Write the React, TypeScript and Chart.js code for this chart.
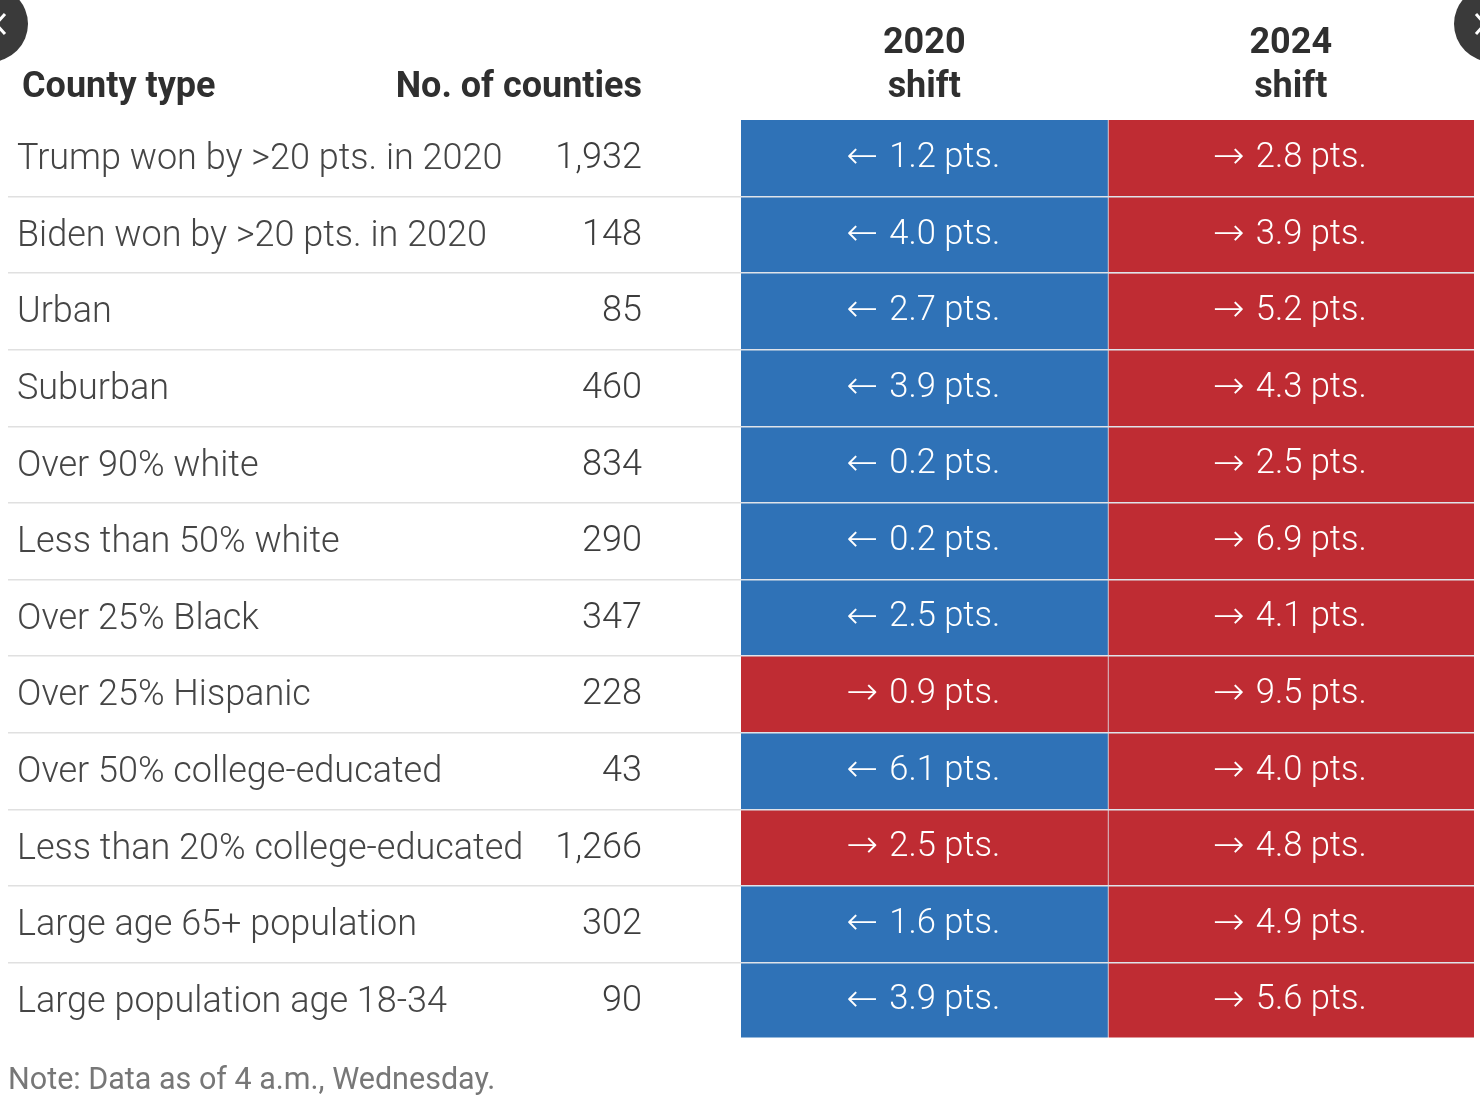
import React, { useEffect, useRef } from "react";
import { Chart, registerables } from "chart.js";

Chart.register(...registerables);

const countyTypes = [
  "Trump won by >20 pts. in 2020",
  "Biden won by >20 pts. in 2020",
  "Urban",
  "Suburban",
  "Over 90% white",
  "Less than 50% white",
  "Over 25% Black",
  "Over 25% Hispanic",
  "Over 50% college-educated",
  "Less than 20% college-educated",
  "Large age 65+ population",
  "Large population age 18-34",
];
const countyCounts = ["1,932", "148", "85", "460", "834", "290", "347", "228", "43", "1,266", "302", "90"];
// negative = shift toward Democrats (blue, left arrow); positive = toward Republicans (red, right arrow)
const shift2020 = [-1.2, -4.0, -2.7, -3.9, -0.2, -0.2, -2.5, 0.9, -6.1, 2.5, -1.6, -3.9];
const shift2024 = [2.8, 3.9, 5.2, 4.3, 2.5, 6.9, 4.1, 9.5, 4.0, 4.8, 4.9, 5.6];
const columnHeaders = [["2020", "shift"], ["2024", "shift"]];
const headerLeft = "County type";
const headerCount = "No. of counties";
const noteText = "Note: Data as of 4 a.m., Wednesday.";

const BLUE = "#2f72b7";
const RED = "#bf2c33";
const LINE = "#e0e0e0";
const DIVIDER = "#dfe3ea";
const FAMILY = "Roboto, sans-serif";
const BODY_FONT = `300 36px ${FAMILY}`;
const CELL_FONT = `300 34.5px ${FAMILY}`;
const ARROW_FONT = "200 38px 'DejaVu Sans', sans-serif";
const HEAD_FONT = `bold 36px ${FAMILY}`;

const tablePlugin = {
  id: "tableText",
  beforeDraw(chart: any) {
    // nudge the county-type tick labels onto the row's optical centre
    chart.scales.y.getLabelItems(chart.chartArea).forEach((item: any) => {
      if (!item.nudged) {
        item.options.translation[1] += 2;
        item.nudged = true;
      }
    });
  },
  afterDatasetsDraw(chart: any) {
    const { ctx, scales } = chart;
    const y = scales.y;
    const x = scales.x;
    ctx.save();
    // trim the last row
    ctx.fillStyle = "#fff";
    ctx.fillRect(0, 1037.5, 1480, 8);

    ctx.textBaseline = "middle";
    [shift2020, shift2024].forEach((series, s) => {
      series.forEach((v, i) => {
        const cx = x.getPixelForValue(s + 0.5);
        const cy = y.getPixelForValue(i);
        ctx.fillStyle = "#ffffff";
        ctx.textAlign = "left";
        ctx.font = ARROW_FONT;
        ctx.fillText(v < 0 ? "\u2190" : "\u2192", cx - 78, cy);
        ctx.font = CELL_FONT;
        ctx.fillText(`${Math.abs(v).toFixed(1)} pts.`, cx - 35, cy);
      });
    });
    ctx.font = BODY_FONT;
    ctx.fillStyle = "#3d3d3d";
    ctx.textAlign = "right";
    countyCounts.forEach((c, i) => ctx.fillText(c, 642, y.getPixelForValue(i) + 1));

    ctx.font = HEAD_FONT;
    ctx.fillStyle = "#2f2f2f";
    ctx.textBaseline = "alphabetic";
    ctx.textAlign = "left";
    ctx.fillText(headerLeft, 22, 97);
    ctx.textAlign = "right";
    ctx.fillText(headerCount, 642, 97);

    ctx.font = `400 30.5px ${FAMILY}`;
    ctx.fillStyle = "#777777";
    ctx.textAlign = "left";
    ctx.fillText(noteText, 8, 1089);

    // carousel buttons cropped by the page edges
    ctx.fillStyle = "#3a3a3a";
    ctx.beginPath();
    ctx.arc(-10, 24, 38, 0, Math.PI * 2);
    ctx.fill();
    ctx.beginPath();
    ctx.arc(1492, 24, 38, 0, Math.PI * 2);
    ctx.fill();
    ctx.strokeStyle = "#fff";
    ctx.lineWidth = 3;
    ctx.beginPath();
    ctx.moveTo(5, 14);
    ctx.lineTo(-4, 24);
    ctx.lineTo(5, 34);
    ctx.stroke();
    ctx.beginPath();
    ctx.moveTo(1476, 14);
    ctx.lineTo(1485, 24);
    ctx.lineTo(1476, 34);
    ctx.stroke();
    ctx.restore();
  },
};

export default function App() {
  const ref = useRef<HTMLCanvasElement>(null);
  useEffect(() => {
    document.body.style.margin = "0";
    const colour = (v: number) => (v < 0 ? BLUE : RED);
    const chart = new Chart(ref.current!, {
      type: "bar",
      data: {
        labels: countyTypes,
        datasets: [
          {
            label: "2020 shift",
            data: shift2020.map(() => [0, 1]) as any,
            backgroundColor: shift2020.map(colour),
            borderWidth: 0,
            barPercentage: 1,
            categoryPercentage: 1,
            grouped: false,
          },
          {
            label: "2024 shift",
            data: shift2024.map(() => [1, 2]) as any,
            backgroundColor: shift2024.map(colour),
            borderColor: DIVIDER,
            borderWidth: { left: 1.5, right: 0, top: 0, bottom: 0 },
            borderSkipped: false,
            barPercentage: 1,
            categoryPercentage: 1,
            grouped: false,
          },
        ],
      },
      options: {
        indexAxis: "y",
        responsive: false,
        animation: false,
        layout: { padding: { left: 17, right: 6, top: 0, bottom: 65 } },
        plugins: { legend: { display: false }, tooltip: { enabled: false }, title: { display: false } },
        scales: {
          x: {
            position: "top",
            min: 0,
            max: 2,
            afterBuildTicks: (scale: any) => {
              scale.ticks = [{ value: 0.5 }, { value: 1.5 }];
            },
            afterFit: (scale: any) => {
              scale.height = 120;
            },
            ticks: {
              autoSkip: false,
              maxRotation: 0,
              padding: 2,
              color: "#2f2f2f",
              font: { family: FAMILY, size: 36, weight: "bold", lineHeight: 1.22 },
              callback: (_v: any, i: number) => columnHeaders[i],
            },
            grid: { display: false },
            border: { display: false },
          },
          y: {
            type: "category",
            offset: true,
            afterFit: (scale: any) => {
              scale.width = 724;
            },
            ticks: {
              crossAlign: "far",
              autoSkip: false,
              padding: 0,
              color: "#454545",
              font: { family: FAMILY, size: 36, weight: "300" },
            },
            grid: {
              z: 1,
              offset: true,
              tickLength: 733,
              color: (c: any) => (!c.index || c.type !== "tick" ? "transparent" : DIVIDER),
              tickColor: (c: any) => (!c.index || c.type !== "tick" ? "transparent" : LINE),
              lineWidth: 1.5,
            },
            border: { display: false },
          },
        },
      },
      plugins: [tablePlugin],
    } as any);
    return () => chart.destroy();
  }, []);
  return <canvas ref={ref} width={1480} height={1104} style={{ display: "block" }} />;
}
